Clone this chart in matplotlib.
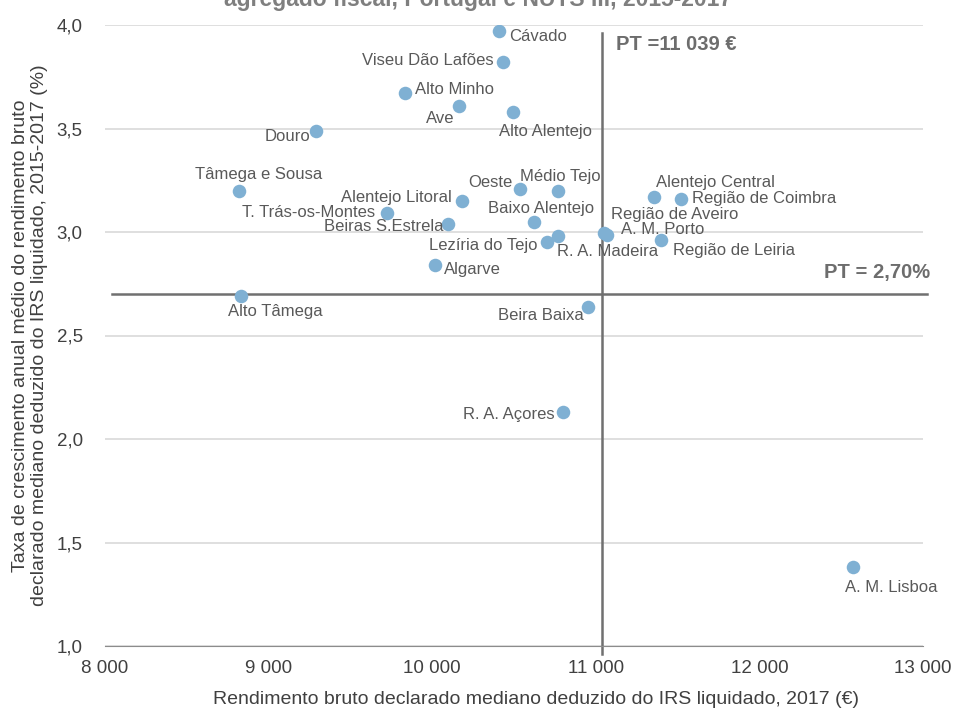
import matplotlib
matplotlib.use('Agg')
import matplotlib.pyplot as plt

plt.rcParams['font.family'] = ['Liberation Sans', 'DejaVu Sans']

# regions, median income 2017 (EUR), growth rate 2015-2017 (%)
regions = ['Cávado', 'Viseu Dão Lafões', 'Alto Minho', 'Ave', 'Alto Alentejo', 'Douro',
           'Tâmega e Sousa', 'Oeste', 'Médio Tejo', 'Alentejo Litoral', 'T. Trás-os-Montes',
           'Beiras S.Estrela', 'Baixo Alentejo', 'Lezíria do Tejo', 'R. A. Madeira',
           'Região de Aveiro', 'A. M. Porto', 'Alentejo Central', 'Região de Coimbra',
           'Região de Leiria', 'Algarve', 'Alto Tâmega', 'Beira Baixa', 'R. A. Açores',
           'A. M. Lisboa']
income = [10408, 10433, 9834, 10164, 10494, 9290,
          8819, 10537, 10769, 10182, 9724,
          10097, 10622, 10702, 10769,
          11050, 11068, 11356, 11521,
          11399, 10017, 8831, 10952, 10800,
          12572]
growth = [3.97, 3.82, 3.67, 3.61, 3.58, 3.49,
          3.20, 3.21, 3.20, 3.15, 3.09,
          3.04, 3.05, 2.95, 2.98,
          2.995, 2.985, 3.17, 3.16,
          2.96, 2.84, 2.69, 2.64, 2.13,
          1.38]

pt_income = 11039
pt_growth = 2.70

x_ticks = [8000, 9000, 10000, 11000, 12000, 13000]
x_ticklabels = ['8 000', '9 000', '10 000', '11 000', '12 000', '13 000']
y_ticks = [1.0, 1.5, 2.0, 2.5, 3.0, 3.5, 4.0]
y_ticklabels = ['1,0', '1,5', '2,0', '2,5', '3,0', '3,5', '4,0']

# label placement (offset in pixels, alignment)
offsets = {
    'Cávado': (10, -5, 'left'), 'Viseu Dão Lafões': (-9, 2, 'right'),
    'Alto Minho': (10, 4, 'left'), 'Ave': (-5, -13, 'right'),
    'Alto Alentejo': (-14, -20, 'left'), 'Douro': (-6, -6, 'right'),
    'Tâmega e Sousa': (20, 16, 'center'), 'Oeste': (-8, 6, 'right'),
    'Médio Tejo': (2, 14, 'center'), 'Alentejo Litoral': (-10, 3, 'right'),
    'T. Trás-os-Montes': (-12, 1, 'right'), 'Beiras S.Estrela': (-5, -3, 'right'),
    'Baixo Alentejo': (7, 13, 'center'), 'Lezíria do Tejo': (-10, -3, 'right'),
    'R. A. Madeira': (-1, -15, 'left'), 'Região de Aveiro': (7, 19, 'left'),
    'A. M. Porto': (14, 6, 'left'), 'Alentejo Central': (2, 14, 'left'),
    'Região de Coimbra': (11, 0, 'left'), 'Região de Leiria': (12, -10, 'left'),
    'Algarve': (9, -4, 'left'), 'Alto Tâmega': (34, -15, 'center'),
    'Beira Baixa': (-4, -9, 'right'), 'R. A. Açores': (-8, -2, 'right'),
    'A. M. Lisboa': (38, -20, 'center'),
}

fig = plt.figure(figsize=(9.56, 7.14), dpi=100)
ax = fig.add_axes([105 / 956, 1 - 646 / 714, 818 / 956, 621 / 714])

ax.set_xlim(8000, 13000)
ax.set_ylim(1.0, 4.0)
ax.set_xticks(x_ticks)
ax.set_xticklabels(x_ticklabels)
ax.set_yticks(y_ticks)
ax.set_yticklabels(y_ticklabels)
ax.tick_params(length=0, labelsize=13.5, labelcolor='#404040', pad=16)
ax.tick_params(axis='x', pad=10)
for s in ['top', 'right', 'left']:
    ax.spines[s].set_visible(False)
ax.spines['bottom'].set_color('#8c8c8c')
ax.grid(axis='y', color='#d9d9d9', linewidth=1.2)
ax.set_axisbelow(True)

# PT reference lines
ax.plot([pt_income, pt_income], [3.96, 0.96], color='#707070', linewidth=1.8,
        clip_on=False, zorder=2)
ax.plot([8040, 13025], [pt_growth, pt_growth], color='#707070', linewidth=1.8,
        clip_on=False, zorder=2)

ax.scatter(income, growth, s=95, color='#7fb0d3', zorder=3, linewidths=0)

for name, x, y in zip(regions, income, growth):
    dx, dy, ha = offsets[name]
    ax.annotate(name, (x, y), xytext=(dx, dy), textcoords='offset pixels',
                ha=ha, va='center', fontsize=12, color='#595959', zorder=4)

ax.text(11123, 3.908, 'PT =11 039 €', fontsize=14.5, fontweight='bold',
        color='#6d6d6d', ha='left', va='center')
ax.text(13043, 2.802, 'PT = 2,70%', fontsize=14.5, fontweight='bold',
        color='#6d6d6d', ha='right', va='center')

ax.set_xlabel('Rendimento bruto declarado mediano deduzido do IRS liquidado, 2017 (€)',
              fontsize=14, color='#404040')
ax.xaxis.set_label_coords(0.527, -0.073)
ax.set_ylabel('Taxa de crescimento anual médio do rendimento bruto\n'
              'declarado mediano deduzido do IRS liquidado, 2015-2017 (%)',
              fontsize=14, color='#404040', labelpad=6, linespacing=1.15)

fig.text(0.5, 1 - 6 / 714, 'agregado fiscal, Portugal e NUTS III, 2015-2017',
         fontsize=16.5, fontweight='bold', color='#7f7f7f', ha='center', va='baseline')

fig.savefig('out.png', dpi=100)
